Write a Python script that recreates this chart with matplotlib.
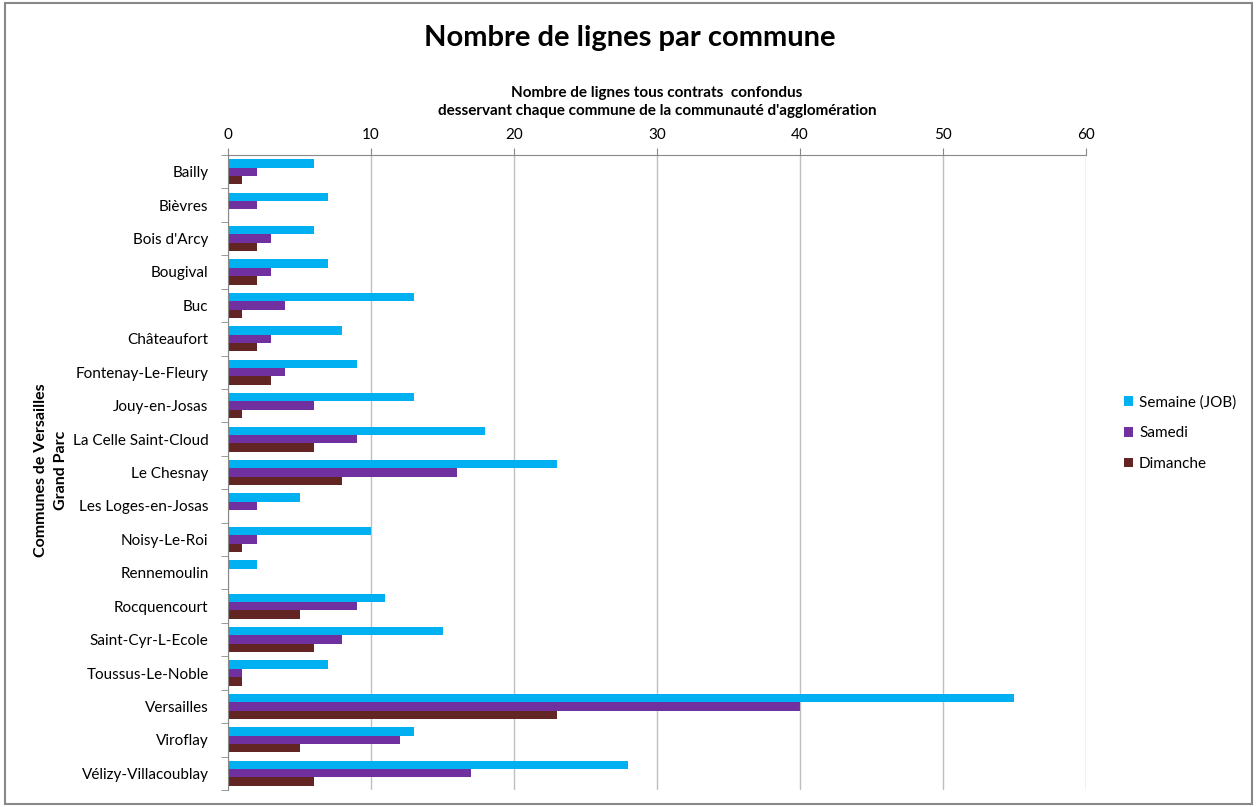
import numpy as np
import matplotlib.pyplot as plt
from matplotlib.patches import Rectangle

plt.rcParams['font.family'] = ['Lato', 'DejaVu Sans']

communes = ['Bailly', 'Bièvres', "Bois d'Arcy", 'Bougival', 'Buc', 'Châteaufort',
            'Fontenay-Le-Fleury', 'Jouy-en-Josas', 'La Celle Saint-Cloud', 'Le Chesnay',
            'Les Loges-en-Josas', 'Noisy-Le-Roi', 'Rennemoulin', 'Rocquencourt',
            'Saint-Cyr-L-Ecole', 'Toussus-Le-Noble', 'Versailles', 'Viroflay',
            'Vélizy-Villacoublay']
semaine = [6, 7, 6, 7, 13, 8, 9, 13, 18, 23, 5, 10, 2, 11, 15, 7, 55, 13, 28]
samedi = [2, 2, 3, 3, 4, 3, 4, 6, 9, 16, 2, 2, 0, 9, 8, 1, 40, 12, 17]
dimanche = [1, 0, 2, 2, 1, 2, 3, 1, 6, 8, 0, 1, 0, 5, 6, 1, 23, 5, 6]

fig = plt.figure(figsize=(12.57, 8.07), dpi=100)
ax = fig.add_axes([228 / 1257, 17 / 807, (1086 - 228) / 1257, (790 - 155) / 807])

y = np.arange(len(communes))
h = 0.25
ax.barh(y - h, semaine, height=h, color='#00B0F0', label='Semaine (JOB)')
ax.barh(y, samedi, height=h, color='#7030A0', label='Samedi')
ax.barh(y + h, dimanche, height=h, color='#632523', label='Dimanche')

ax.set_ylim(len(communes) - 0.5, -0.5)
ax.set_xlim(0, 60)
ax.set_xticks(range(0, 61, 10))
ax.xaxis.tick_top()
ax.xaxis.set_label_position('top')
ax.set_yticks(y)
ax.set_yticklabels(communes, fontsize=11)
ax.set_yticks(np.arange(-0.5, len(communes), 1), minor=True)
ax.tick_params(axis='y', which='major', length=0, pad=14)
ax.tick_params(axis='y', which='minor', length=5, color='#888888')
ax.tick_params(axis='x', length=5, color='#888888', labelsize=11, pad=4)
ax.grid(axis='x', color='#bfbfbf', linewidth=1)
ax.set_axisbelow(True)
for s in ['right', 'bottom']:
    ax.spines[s].set_visible(False)
ax.spines['top'].set_color('#888888')
ax.spines['left'].set_color('#888888')

ax.set_xlabel("Nombre de lignes tous contrats  confondus\ndesservant chaque commune de la communauté d'agglomération",
              fontsize=11, fontweight='bold', labelpad=10, linespacing=1.35)
fig.text(51 / 1257, 1 - 470 / 807, 'Communes de Versailles\nGrand Parc', rotation=90,
         fontsize=11.5, fontweight='bold', ha='center', va='center', linespacing=1.55)
fig.text(630 / 1257, 1 - 38 / 807, 'Nombre de lignes par commune', fontsize=21,
         fontweight='bold', ha='center', va='center')

fig.legend(loc='center left', bbox_to_anchor=(1110 / 1257, 1 - 433 / 807), frameon=False,
           fontsize=11, handlelength=0.6, handleheight=0.6, handletextpad=0.4, labelspacing=1.1)

fig.patches.append(Rectangle((0.004, 0.004), 0.992, 0.992, transform=fig.transFigure,
                             fill=False, edgecolor='#888888', linewidth=1.5))

fig.savefig('out.png', dpi=100)
